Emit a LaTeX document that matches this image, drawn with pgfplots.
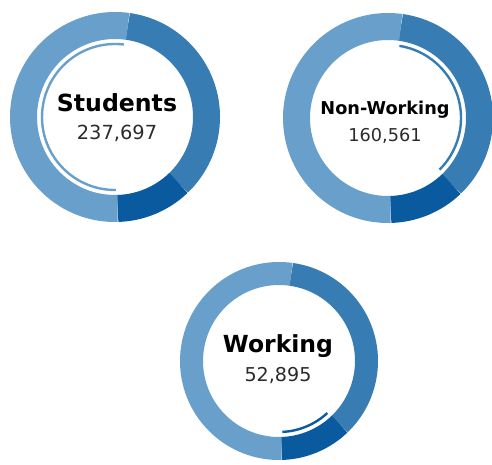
\documentclass[border=0pt]{standalone}
\usepackage{fontspec}
\setmainfont{DejaVu Sans}
\usepackage{pgfplots}
\pgfplotsset{compat=1.18}
\usepackage{pgfplotstable}
\definecolor{segLight}{HTML}{69A0CB}
\definecolor{segMid}{HTML}{377DB4}
\definecolor{segDark}{HTML}{0A5AA0}
\definecolor{numtext}{HTML}{2B2B2B}

% population by group
\pgfplotstableread{
group value
NonWorking 160561
Working 52895
Students 237697
}\groups

\pgfplotstablegetelem{0}{value}\of\groups \edef\vNW{\pgfplotsretval}
\pgfplotstablegetelem{1}{value}\of\groups \edef\vW{\pgfplotsretval}
\pgfplotstablegetelem{2}{value}\of\groups \edef\vS{\pgfplotsretval}
\edef\total{\fpeval{\vNW+\vW+\vS}}
% clock angles (clockwise from 12 o'clock), first slice starts a little past the top
\def\tA{8}
\edef\tB{\fpeval{\tA+360*\vNW/\total}}
\edef\tC{\fpeval{\tB+360*\vW/\total}}
\edef\tD{\fpeval{\tA+360}}

% slice as a thick arc: cx, cy, t1, t2, mid radius, band width, colour
\newcommand{\seg}[7]{%
  \draw[#7, line width={(#6)*1pt}, line cap=butt] (axis cs:#1,#2) ++({90-(#3)}:{#5})
    arc[start angle={90-(#3)}, end angle={90-(#4)}, radius={#5}];}
% white gap at angle: cx, cy, t, rin, rout
\newcommand{\gap}[5]{%
  \draw[white, line width=2pt] (axis cs:#1,#2) ++({90-(#3)}:{#4-3})
    -- ++({90-(#3)}:{#5-#4+6});}
% thin inner arc: cx, cy, t1, t2, r, colour
\newcommand{\hl}[6]{%
  \draw[#6, line width=2.4pt] (axis cs:#1,#2) ++({90-(#3)-1}:{#5})
    arc[start angle={90-(#3)-1}, end angle={90-(#4)+1}, radius={#5}];}
% whole ring: cx, cy, rin, rout
\newcommand{\ring}[4]{%
  \seg{#1}{#2}{\tA}{\tB}{(#3+#4)/2}{#4-#3}{segMid}
  \seg{#1}{#2}{\tB}{\tC}{(#3+#4)/2}{#4-#3}{segDark}
  \seg{#1}{#2}{\tC}{\tD}{(#3+#4)/2}{#4-#3}{segLight}
  \gap{#1}{#2}{\tA}{#3}{#4}
  \gap{#1}{#2}{\tB}{#3}{#4}
  \gap{#1}{#2}{\tC}{#3}{#4}}

\begin{document}
\begin{tikzpicture}
\begin{axis}[
  name=ax,
  width=492pt, height=465pt, scale only axis,
  xmin=0, xmax=492, ymin=0, ymax=465,
  hide axis,
]
  % Students
  \ring{115}{348}{78}{105}
  \hl{115}{348}{\tC}{\tD}{73}{segLight}
  \node[anchor=base, font=\fontsize{23.6}{26}\selectfont\bfseries] at (axis cs:117,353) {Students};
  \node[anchor=base, numtext, font=\fontsize{19.4}{22}\selectfont] at (axis cs:117,325) {237,697};
  % Non-Working
  \ring{388}{347}{78}{105}
  \hl{388}{347}{\tA}{\tB}{73}{segMid}
  \node[anchor=base, font=\fontsize{17.7}{20}\selectfont\bfseries] at (axis cs:385,350) {Non-Working};
  \node[anchor=base, numtext, font=\fontsize{17.7}{20}\selectfont] at (axis cs:385,323) {160,561};
  % Working
  \ring{279}{104}{76}{99}
  \hl{279}{104}{\tB}{\tC}{71}{segDark}
  \node[anchor=base, font=\fontsize{23.5}{26}\selectfont\bfseries] at (axis cs:278,112) {Working};
  \node[anchor=base, numtext, font=\fontsize{19.1}{22}\selectfont] at (axis cs:278,83) {52,895};
\end{axis}
\pgfresetboundingbox
\path[use as bounding box] (ax.south west) rectangle (ax.north east);
\end{tikzpicture}
\end{document}
